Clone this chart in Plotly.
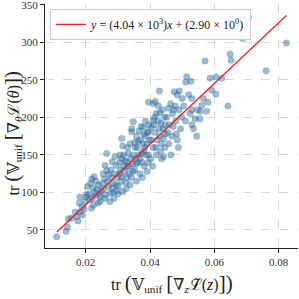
import numpy as np
import plotly.graph_objects as go

# x values: tr(V_unif[grad_z L~(z)]), y values: tr(V_unif[grad_theta L(theta)])
x_vals = [
    # x < 0.020
    0.0110, 0.0139, 0.0143, 0.0146, 0.0156, 0.0172, 0.0167, 0.0182, 0.0188, 0.0180,
    0.0182, 0.0195, 0.0190, 0.0176, 0.0198,
    # 0.020 - 0.025
    0.0201, 0.0205, 0.0215, 0.0219, 0.0213, 0.0224, 0.0245, 0.0230, 0.0245, 0.0235,
    0.0228, 0.0240, 0.0210, 0.0220, 0.0238, 0.0248, 0.0232, 0.0222, 0.0242, 0.0218,
    0.0203, 0.0226,
    # 0.025 - 0.030
    0.0276, 0.0286, 0.0265, 0.0294, 0.0291, 0.0265, 0.0255, 0.0260, 0.0270, 0.0280,
    0.0258, 0.0268, 0.0275, 0.0285, 0.0290, 0.0262, 0.0278, 0.0252, 0.0295, 0.0288,
    0.0272, 0.0283, 0.0298, 0.0260, 0.0282, 0.0254, 0.0296,
    # 0.030 - 0.035
    0.0328, 0.0312, 0.0315, 0.0305, 0.0318, 0.0325, 0.0335, 0.0340, 0.0302, 0.0308,
    0.0322, 0.0330, 0.0345, 0.0310, 0.0338, 0.0320, 0.0348, 0.0342, 0.0300, 0.0332,
    0.0315, 0.0326, 0.0335, 0.0318, 0.0305, 0.0347, 0.0312, 0.0328, 0.0312, 0.0343,
    0.0338, 0.0348, 0.0343, 0.0307, 0.0327,
    # 0.035 - 0.040
    0.0355, 0.0360, 0.0365, 0.0370, 0.0375, 0.0380, 0.0385, 0.0390, 0.0395, 0.0352,
    0.0358, 0.0368, 0.0372, 0.0378, 0.0382, 0.0388, 0.0392, 0.0398, 0.0362, 0.0376,
    0.0386, 0.0354, 0.0366, 0.0394, 0.0384, 0.0358, 0.0396, 0.0374, 0.0364, 0.0390,
    0.0395, 0.0395, 0.0379, 0.0353, 0.0369, 0.0381, 0.0357,
    # 0.040 - 0.045
    0.0405, 0.0410, 0.0415, 0.0420, 0.0425, 0.0430, 0.0435, 0.0440, 0.0445, 0.0419,
    0.0429, 0.0402, 0.0412, 0.0422, 0.0432, 0.0438, 0.0442, 0.0408, 0.0418, 0.0428,
    0.0436, 0.0448, 0.0414, 0.0426, 0.0404, 0.0446, 0.0434, 0.0416, 0.0410, 0.0410,
    0.0431, 0.0442, 0.0447,
    # 0.045 - 0.050
    0.0464, 0.0475, 0.0491, 0.0484, 0.0470, 0.0480, 0.0455, 0.0460, 0.0490, 0.0485,
    0.0495, 0.0452, 0.0468, 0.0478, 0.0498, 0.0458, 0.0472, 0.0488, 0.0465, 0.0482,
    0.0457, 0.0473,
    # 0.050 - 0.055
    0.0514, 0.0527, 0.0511, 0.0530, 0.0540, 0.0530, 0.0520, 0.0505, 0.0545, 0.0510,
    0.0525, 0.0500, 0.0535, 0.0548, 0.0530,
    # 0.055 - 0.060
    0.0571, 0.0587, 0.0566, 0.0561, 0.0556, 0.0576, 0.0592, 0.0580, 0.0555,
    # > 0.060
    0.0605, 0.0623, 0.0605, 0.0642, 0.0649, 0.0652, 0.0688, 0.0706, 0.0761, 0.0824,
]
y_vals = [
    41, 48, 54, 65, 66, 68, 74, 74, 81, 86,
    94, 78, 70, 62, 88,
    94, 108, 112, 118, 90, 83, 94, 96, 88, 104,
    100, 110, 98, 92, 86, 102, 115, 106, 98, 79,
    97, 121,
    99, 112, 129, 136, 148, 152, 105, 92, 108, 120,
    118, 115, 88, 100, 125, 97, 130, 112, 110, 92,
    124, 106, 120, 136, 141, 125, 102,
    134, 121, 101, 140, 150, 113, 125, 145, 108, 130,
    142, 160, 138, 115, 110, 128, 150, 120, 98, 152,
    162, 105, 135, 135, 125, 128, 145, 120, 172, 181,
    165, 194, 185, 150, 141,
    145, 160, 150, 170, 140, 155, 175, 165, 150, 130,
    175, 125, 188, 165, 135, 150, 180, 170, 140, 120,
    195, 160, 182, 140, 160, 115, 190, 152, 168, 128,
    220, 181, 187, 167, 145, 178, 138,
    170, 160, 180, 150, 195, 175, 165, 185, 200, 205,
    235, 145, 190, 170, 155, 210, 172, 135, 160, 185,
    145, 178, 200, 215, 187, 160, 192, 221, 218, 196,
    206, 148, 190,
    218, 234, 235, 230, 205, 195, 180, 190, 210, 170,
    185, 200, 175, 215, 200, 165, 188, 160, 150, 178,
    212, 210,
    254, 248, 247, 225, 198, 210, 230, 215, 175, 195,
    205, 225, 185, 210, 190,
    275, 252, 225, 216, 208, 208, 236, 220, 198,
    254, 252, 231, 215, 284, 276, 305, 333, 262, 299,
]

fit_slope = 4.04e3
fit_intercept = 2.90

x_ticks = [0.02, 0.04, 0.06, 0.08]
y_ticks = [50, 100, 150, 200, 250, 300, 350]

xs = np.array(x_vals)
line_x = np.array([xs.min(), xs.max()])
line_y = fit_slope * line_x + fit_intercept

font_family = "Liberation Serif, DejaVu Serif, serif"
big = '<span style="font-size:21px">{}</span>'
scr = '<span style="font-family:DejaVu Serif">{}</span>'

x_title = ("tr " + big.format("(") + "𝕍<sub>unif</sub> " + big.format("[")
           + "∇<sub><i>z</i></sub>" + scr.format("ℒ\u0303") + "(<i>z</i>)"
           + big.format("]") + big.format(")"))
y_title = ("tr " + big.format("(") + "𝕍<sub>unif</sub> " + big.format("[")
           + "∇<sub><i>θ</i></sub>" + scr.format("ℒ") + "(<i>θ</i>)"
           + big.format("]") + big.format(")"))

fig = go.Figure()
fig.add_trace(go.Scatter(
    x=x_vals, y=y_vals, mode="markers",
    marker=dict(size=6.5, color="rgba(40,105,155,0.45)",
                line=dict(width=0.6, color="rgba(40,105,155,0.25)")),
    showlegend=False,
))
fig.add_trace(go.Scatter(
    x=line_x, y=line_y, mode="lines",
    line=dict(color="#ff1a1a", width=1.3),
    name="<i>y</i> = (4.04 × 10<sup>3</sup>)<i>x</i> + (2.90 × 10<sup>0</sup>)",
))

axis_common = dict(
    showline=True, linecolor="#222", linewidth=1.3,
    ticks="outside", ticklen=4, tickcolor="#222", tickwidth=1.2,
    showgrid=True, gridcolor="#d9d9d9", griddash="dash", gridwidth=0.8,
    zeroline=False, automargin=False, ticklabeloverflow="allow",
    tickfont=dict(family=font_family, size=11, color="#333"),
)

fig.update_layout(
    width=299, height=299,
    margin=dict(l=45, r=1, t=4, b=51),
    paper_bgcolor="white", plot_bgcolor="white",
    font=dict(family=font_family, color="#222"),
    xaxis=dict(range=[0.00734, 0.0860], tickvals=x_ticks,
               ticktext=[f"{v:.2f}" for v in x_ticks], **axis_common),
    yaxis=dict(range=[26, 351], tickvals=y_ticks,
               ticktext=[str(v) for v in y_ticks], **axis_common),
    legend=dict(x=0.02, y=0.98, xanchor="left", yanchor="top",
                bgcolor="rgba(255,255,255,0.9)", bordercolor="#cccccc", borderwidth=1,
                font=dict(family=font_family, size=12, color="#222"),
                itemwidth=30),
    annotations=[
        dict(text=x_title, xref="paper", yref="paper", x=0.5, y=-0.145,
             xanchor="center", yanchor="middle", showarrow=False,
             font=dict(family=font_family, size=16, color="#222")),
        dict(text=y_title, xref="paper", yref="paper", x=-0.13, y=0.47,
             xanchor="center", yanchor="middle", showarrow=False, textangle=-90,
             font=dict(family=font_family, size=16, color="#222")),
    ],
)

fig.write_html("out.html", config={"displayModeBar": False},
               post_script="document.body.style.margin='0';")
